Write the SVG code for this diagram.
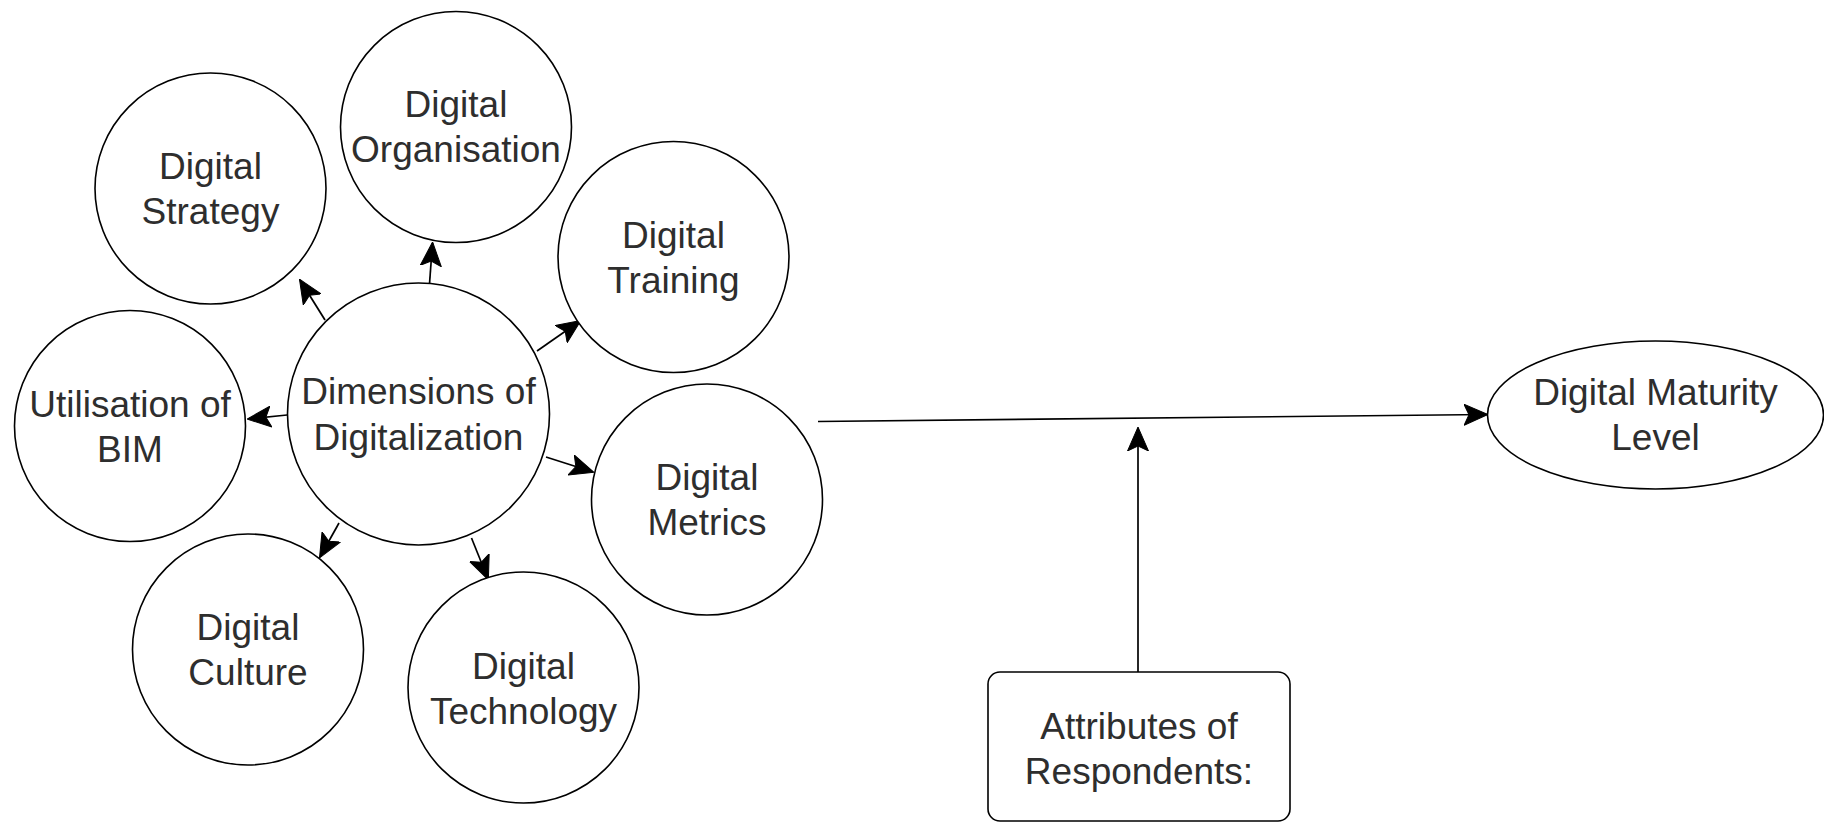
<svg xmlns="http://www.w3.org/2000/svg" width="1824" height="824" viewBox="0 0 1824 824">
  <style>
    .node { fill: #ffffff; stroke: #000000; stroke-width: 1.6; }
    .label { font-family: "Liberation Sans", Arial, sans-serif; font-size: 37px; fill: #2e2e2e; text-anchor: middle; dominant-baseline: central; }
    .edge { fill: none; stroke: #000000; stroke-width: 1.7; marker-end: url(#arrow); }
  </style>
  <defs>
    <!-- classic notched arrowhead, tip on the line end -->
    <marker id="arrow" markerUnits="userSpaceOnUse" viewBox="0 0 24 22" refX="23" refY="11" markerWidth="24" markerHeight="22" orient="auto">
      <path d="M24,11 L0,0.5 L5,11 L0,21.5 Z" fill="#000000" stroke="#000000" stroke-width="1" stroke-linejoin="round"/>
    </marker>
  </defs>

  <rect width="1824" height="824" fill="#ffffff"/>

  <!-- connectors -->
  <g id="edges">
    <line class="edge" x1="325" y1="320" x2="300" y2="280"/>
    <line class="edge" x1="429.5" y1="284" x2="432.5" y2="243"/>
    <line class="edge" x1="537" y1="351" x2="580" y2="321"/>
    <line class="edge" x1="287" y1="415" x2="248" y2="419"/>
    <line class="edge" x1="546" y1="457" x2="593" y2="472"/>
    <line class="edge" x1="339" y1="523" x2="320" y2="557"/>
    <line class="edge" x1="471.5" y1="538" x2="488" y2="579"/>
    <line class="edge" x1="818" y1="421.5" x2="1487" y2="414.5"/>
    <line class="edge" x1="1138" y1="672" x2="1138" y2="428"/>
  </g>

  <!-- nodes -->
  <g id="digital-strategy">
    <circle class="node" cx="210.5" cy="188.5" r="115.5"/>
    <text class="label" x="210.5" y="166">Digital</text>
    <text class="label" x="210.5" y="211">Strategy</text>
  </g>
  <g id="digital-organisation">
    <circle class="node" cx="456" cy="127" r="115.5"/>
    <text class="label" x="456" y="104">Digital</text>
    <text class="label" x="456" y="149">Organisation</text>
  </g>
  <g id="digital-training">
    <circle class="node" cx="673.5" cy="257" r="115.5"/>
    <text class="label" x="673.5" y="235">Digital</text>
    <text class="label" x="673.5" y="280">Training</text>
  </g>
  <g id="utilisation-of-bim">
    <circle class="node" cx="130" cy="426" r="115.5"/>
    <text class="label" x="130" y="404">Utilisation of</text>
    <text class="label" x="130" y="449">BIM</text>
  </g>
  <g id="dimensions-of-digitalization">
    <circle class="node" cx="418.5" cy="414" r="131"/>
    <text class="label" x="418.5" y="391">Dimensions of</text>
    <text class="label" x="418.5" y="437">Digitalization</text>
  </g>
  <g id="digital-metrics">
    <circle class="node" cx="707" cy="499.5" r="115.5"/>
    <text class="label" x="707" y="477">Digital</text>
    <text class="label" x="707" y="522">Metrics</text>
  </g>
  <g id="digital-culture">
    <circle class="node" cx="248" cy="649.5" r="115.5"/>
    <text class="label" x="248" y="627">Digital</text>
    <text class="label" x="248" y="672">Culture</text>
  </g>
  <g id="digital-technology">
    <circle class="node" cx="523.5" cy="687.5" r="115.5"/>
    <text class="label" x="523.5" y="666">Digital</text>
    <text class="label" x="523.5" y="711">Technology</text>
  </g>
  <g id="digital-maturity-level">
    <ellipse class="node" cx="1655.5" cy="415" rx="168" ry="74"/>
    <text class="label" x="1655.5" y="392">Digital Maturity</text>
    <text class="label" x="1655.5" y="437">Level</text>
  </g>
  <g id="attributes-of-respondents">
    <rect class="node" x="988" y="672" width="302" height="149" rx="12" ry="12"/>
    <text class="label" x="1139" y="726">Attributes of</text>
    <text class="label" x="1139" y="771">Respondents:</text>
  </g>
</svg>
